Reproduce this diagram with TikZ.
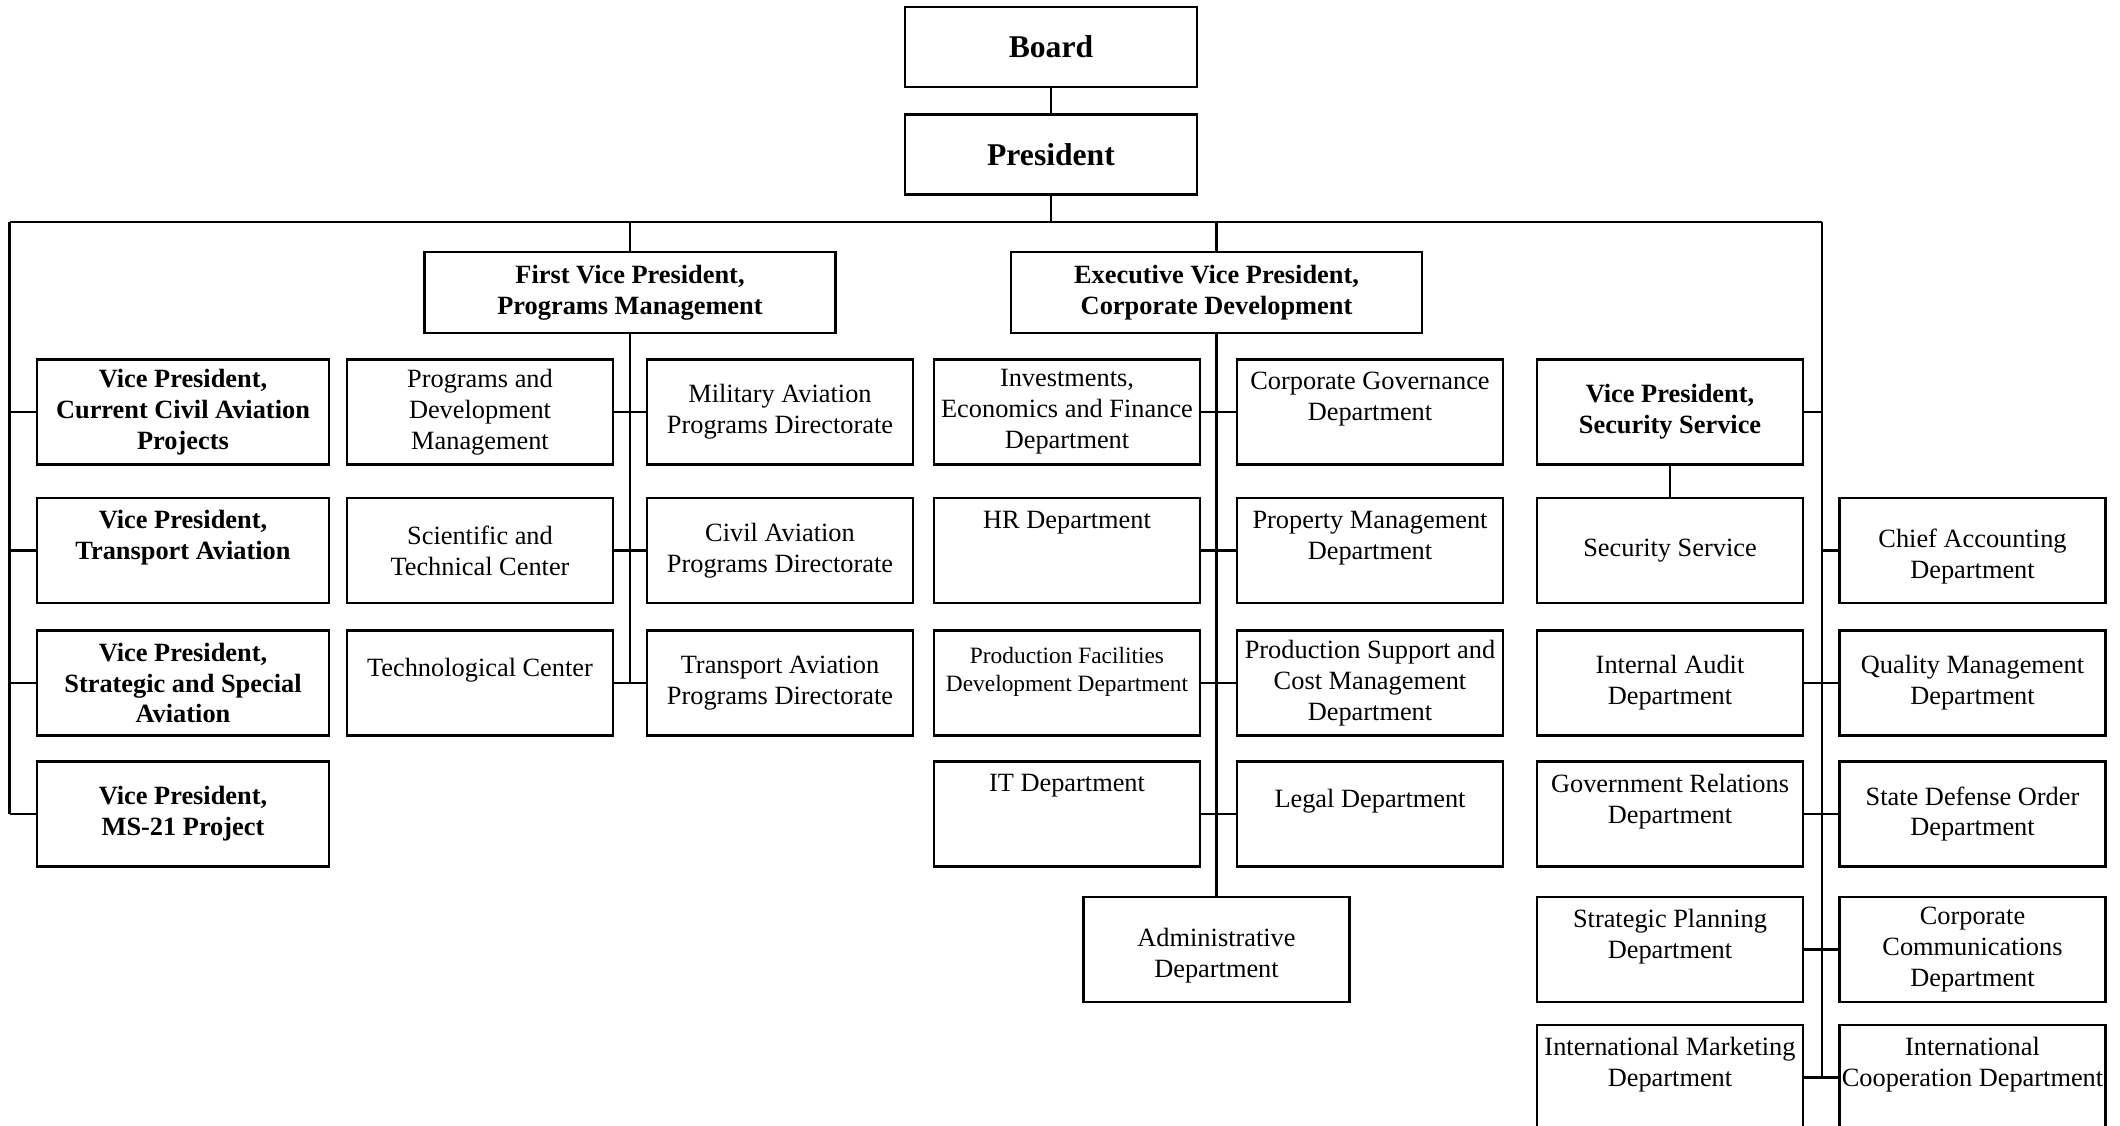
\documentclass[tikz,border=0pt]{standalone}
\usepackage{fontspec}
\setmainfont{Liberation Serif}

\begin{document}
\begin{tikzpicture}[
        box/.style={draw, line width=1.3pt, rectangle, align=center, inner sep=1pt, minimum width=5.32cm, minimum height=2.1cm, font=\fontsize{15}{17.6}\selectfont},
        head/.style={box, font=\fontsize{15}{17.6}\selectfont\bfseries},
        vp/.style={head, minimum width=5.85cm},
        top/.style={box, minimum width=5.84cm, minimum height=1.6cm, font=\fontsize{18}{21}\selectfont\bfseries},
        wire/.style={line width=1.2pt}
    ]
    \useasboundingbox (0, 0) rectangle (42.4, -22.52);
    \coordinate (bl) at (0.19, -4.44);
    \coordinate (br) at (36.44, -4.44);

    \draw (21.02, -0.94) node [top, name=board] {Board};
    \draw (21.02, -3.09) node [top, name=pres] {President};
    \draw (12.60, -5.85) node [head, name=fvp, minimum width=8.22cm, minimum height=1.62cm] {First Vice President,\\Programs Management};
    \draw (24.33, -5.85) node [head, name=evp, minimum width=8.22cm, minimum height=1.62cm] {Executive Vice President,\\Corporate Development};

    \draw (3.66, -8.24) node [vp, name=vp1] {Vice President,\\Current Civil Aviation\\Projects};
    \draw (3.66, -11.01) node [vp, name=vp2] {Vice President,\\Transport Aviation\\~};
    \draw (3.66, -13.66) node [vp, name=vp3] {Vice President,\\Strategic and Special\\Aviation};
    \draw (3.66, -16.28) node [vp, name=vp4] {Vice President,\\MS-21 Project};

    \draw (9.60, -8.24) node [box, name=pdm] {Programs and\\Development\\Management};
    \draw (9.60, -11.01) node [box, name=stc] {Scientific and\\Technical Center};
    \draw (9.60, -13.66) node [box, name=tech] {Technological Center\\~};
    \draw (15.60, -8.24) node [box, name=mil] {Military Aviation\\Programs Directorate};
    \draw (15.60, -11.01) node [box, name=civ] {Civil Aviation\\Programs Directorate};
    \draw (15.60, -13.66) node [box, name=tra] {Transport Aviation\\Programs Directorate};

    \draw (21.34, -8.24) node [box, name=inv] {Investments,\\Economics and Finance\\Department};
    \draw (21.34, -11.01) node [box, name=hr] {HR Department\\~\\~};
    \draw (21.34, -13.66) node [box, name=pfd, font=\fontsize{13.3}{15.9}\selectfont] {Production Facilities\\Development Department\\~};
    \draw (21.34, -16.28) node [box, name=it] {IT Department\\~\\~};
    \draw (27.40, -8.24) node [box, name=cgov] {Corporate Governance\\Department\\~};
    \draw (27.40, -11.01) node [box, name=prop] {Property Management\\Department\\~};
    \draw (27.40, -13.66) node [box, name=psc] {Production Support and\\Cost Management\\Department};
    \draw (27.40, -16.28) node [box, name=legal] {Legal Department\\~};
    \draw (24.33, -18.99) node [box, name=admin] {~\\Administrative\\Department};

    \draw (33.40, -8.24) node [head, name=vpsec] {Vice President,\\Security Service};
    \draw (33.40, -11.01) node [box, name=secsvc] {Security Service};
    \draw (33.40, -13.66) node [box, name=audit] {Internal Audit\\Department};
    \draw (33.40, -16.28) node [box, name=gov] {Government Relations\\Department\\~};
    \draw (33.40, -18.99) node [box, name=plan] {Strategic Planning\\Department\\~};
    \draw (33.40, -21.55) node [box, name=mkt] {International Marketing\\Department\\~};
    \draw (39.45, -11.01) node [box, name=acc] {~\\Chief Accounting\\Department};
    \draw (39.45, -13.66) node [box, name=qual] {Quality Management\\Department};
    \draw (39.45, -16.28) node [box, name=sdo] {State Defense Order\\Department};
    \draw (39.45, -18.99) node [box, name=comm] {Corporate\\Communications\\Department};
    \draw (39.45, -21.55) node [box, name=coop] {International\\Cooperation Department\\~};

    \draw [wire] (board) -- (pres);
    \draw [wire] (pres.south) -- (pres.south |- bl);
    \draw [wire] (bl) -- (br);
    \draw [wire] (fvp.north) -- (fvp.north |- bl);
    \draw [wire] (evp.north) -- (evp.north |- bl);

    \draw [wire] (bl) -- (bl |- vp4.west);
    \draw [wire] (vp1.west) -- (vp1.west -| bl);
    \draw [wire] (vp2.west) -- (vp2.west -| bl);
    \draw [wire] (vp3.west) -- (vp3.west -| bl);
    \draw [wire] (vp4.west) -- (vp4.west -| bl);

    \draw [wire] (fvp.south) -- (fvp.south |- tech.east);
    \draw [wire] (pdm.east) -- (mil.west);
    \draw [wire] (stc.east) -- (civ.west);
    \draw [wire] (tech.east) -- (tra.west);

    \draw [wire] (evp.south) -- (admin.north);
    \draw [wire] (inv.east) -- (cgov.west);
    \draw [wire] (hr.east) -- (prop.west);
    \draw [wire] (pfd.east) -- (psc.west);
    \draw [wire] (it.east) -- (legal.west);

    \draw [wire] (br) -- (br |- mkt.east);
    \draw [wire] (vpsec.east) -- (vpsec.east -| br);
    \draw [wire] (vpsec) -- (secsvc);
    \draw [wire] (acc.west) -- (acc.west -| br);
    \draw [wire] (audit.east) -- (qual.west);
    \draw [wire] (gov.east) -- (sdo.west);
    \draw [wire] (plan.east) -- (comm.west);
    \draw [wire] (mkt.east) -- (coop.west);
\end{tikzpicture}
\end{document}
